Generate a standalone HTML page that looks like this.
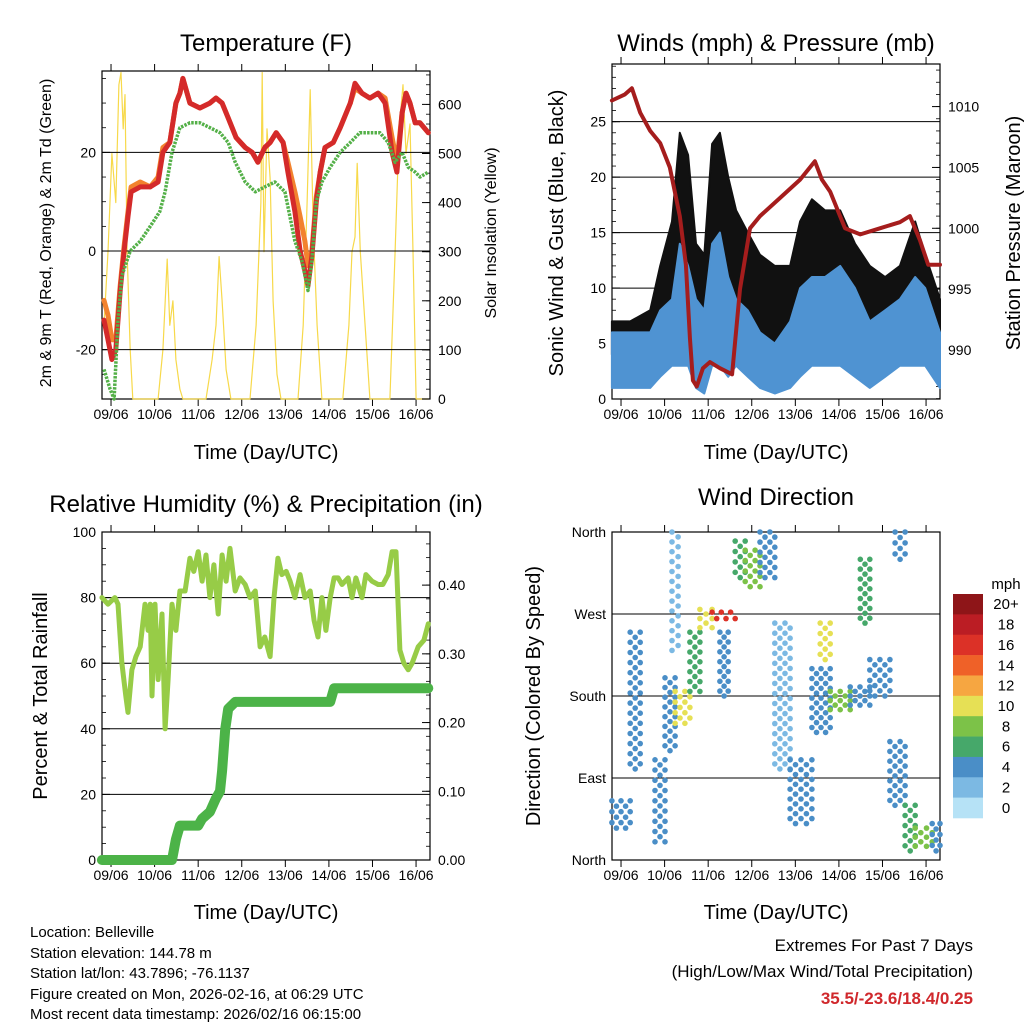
<!DOCTYPE html>
<html><head><meta charset="utf-8"><style>
body{margin:0;background:#fff}
svg{font-family:"Liberation Sans",sans-serif;display:block}
</style></head><body>
<svg id="s" width="1024" height="1024" viewBox="0 0 1024 1024" xmlns="http://www.w3.org/2000/svg">
<g id="layer"></g>
<g font-size="24" text-anchor="middle">
<text x="266" y="51">Temperature (F)</text>
<text x="776" y="51">Winds (mph) &amp; Pressure (mb)</text>
<text x="266" y="512">Relative Humidity (%) &amp; Precipitation (in)</text>
<text x="776" y="505">Wind Direction</text>
</g>
<g font-size="20" text-anchor="middle">
<text x="266" y="459">Time (Day/UTC)</text>
<text x="776" y="459">Time (Day/UTC)</text>
<text x="266" y="919">Time (Day/UTC)</text>
<text x="776" y="919">Time (Day/UTC)</text>
<text transform="translate(51,233) rotate(-90)" font-size="16">2m &amp; 9m T (Red, Orange) &amp; 2m Td (Green)</text>
<text transform="translate(496,233) rotate(-90)" font-size="16">Solar Insolation (Yellow)</text>
<text transform="translate(563,233) rotate(-90)">Sonic Wind &amp; Gust (Blue, Black)</text>
<text transform="translate(1020,233) rotate(-90)">Station Pressure (Maroon)</text>
<text transform="translate(47,696) rotate(-90)">Percent &amp; Total Rainfall</text>
<text transform="translate(540,696) rotate(-90)">Direction (Colored By Speed)</text>
</g>
<g font-size="15">
<text x="30" y="937">Location: Belleville</text>
<text x="30" y="958">Station elevation: 144.78 m</text>
<text x="30" y="978">Station lat/lon: 43.7896; -76.1137</text>
<text x="30" y="999">Figure created on Mon, 2026-02-16, at 06:29 UTC</text>
<text x="30" y="1019">Most recent data timestamp: 2026/02/16 06:15:00</text>
</g>
<g font-size="17" text-anchor="end">
<text x="973" y="951">Extremes For Past 7 Days</text>
<text x="973" y="977">(High/Low/Max Wind/Total Precipitation)</text>
<text x="973" y="1004" fill="#d0282c" font-weight="bold">35.5/-23.6/18.4/0.25</text>
</g>
</svg>
<script>
// ---------- data ----------
const dayLabels=["09/06","10/06","11/06","12/06","13/06","14/06","15/06","16/06"];
const t9Times=[-0.16,-0.07,0.02,0.11,0.21,0.30,0.39,0.46,0.67,0.90,1.08,1.19,1.35,1.49,1.58,1.65,1.81,2.04,2.27,2.41,2.55,2.69,2.87,3.08,3.24,3.37,3.53,3.65,3.79,3.95,4.06,4.22,4.34,4.45,4.52,4.61,4.71,4.80,4.91,5.10,5.26,5.49,5.60,5.76,5.94,6.13,6.29,6.45,6.56,6.68,6.77,6.86,6.98,7.09,7.28];
const t9Vals=[-14,-18,-22,-20,-8,0,7,12,13,13,14,20,22,30,32,35,30,29,30,31,30,27,23,21,20,18,21,22,24,22,16,8,0,-4,-7,-1,10,16,21,22,25,30,34,32,31,32,30,20,16,28,32,30,26,26,24];
const t2Vals=[-10,-13,-18,-18,-7,1,8,13,14,13,15,21,22,30,32,35,30,29,30,31,30,27,23,21,20,18,21,22,24,22,18,12,7,2,-3,0,11,16,21,22,25,30,33,32,31,32,31,23,18,28,32,30,26,26,24];
const tdTimes=[-0.16,-0.02,0.07,0.16,0.25,0.44,0.67,0.90,1.12,1.24,1.40,1.58,1.81,2.04,2.27,2.50,2.69,2.85,3.08,3.31,3.53,3.76,3.99,4.22,4.38,4.52,4.61,4.71,4.84,5.03,5.26,5.49,5.71,5.94,6.17,6.36,6.52,6.68,6.82,6.98,7.09,7.28];
const tdVals=[-24,-28,-30,-14,-5,0,2,5,8,12,20,25,26,26,25,24,22,18,14,12,13,14,12,2,-2,-8,-2,10,14,17,20,22,24,24,24,22,18,20,17,16,15,16];
const solarTimes=[-0.16,-0.07,0.02,0.11,0.18,0.23,0.28,0.32,0.37,0.44,0.50,1.08,1.19,1.29,1.35,1.42,1.49,1.58,1.65,2.18,2.32,2.41,2.48,2.55,2.64,2.75,3.19,3.33,3.44,3.47,3.51,3.58,3.65,3.72,3.81,3.90,4.29,4.41,4.50,4.57,4.64,4.73,4.84,5.32,5.46,5.53,5.60,5.65,5.72,5.83,5.94,6.40,6.52,6.61,6.70,6.77,6.86,6.93,7.00,7.28];
const solarVals=[150,300,500,400,640,665,550,620,300,100,0,0,100,285,150,200,80,20,0,0,80,150,290,200,60,0,0,150,400,665,300,550,450,200,50,0,0,150,400,630,350,150,0,0,150,300,330,480,300,150,0,0,300,550,640,500,560,300,0,0];
const windTimes=[-0.21,0.21,0.67,0.90,1.17,1.35,1.54,1.72,1.91,2.09,2.27,2.46,2.64,2.91,3.19,3.53,3.88,4.11,4.38,4.68,5.03,5.37,5.71,6.06,6.40,6.75,6.98,7.32];
const windLo=[1,1,1,2,3,3,3,1,0.5,3,3,2,3,2,1,0.5,1,2,3,3,3,2,1,2,3,3,3,1];
const windHi=[6,6,6,8,9,14,12,9,8,14,15,11,9,8,6,5,7,10,11,11,12,10,7,8,9,11,10,6];
const gustLo=[4,4,4,5,6,10,9,6,5,10,11,9,7,6,5,4,5,7,8,8,9,7,6,5,6,8,7,5];
const gustHi=[7,7,8,12,16,24,22,14,13,23,24,20,17,15,13,12,12,16,18,17,17,14,12,11,12,16,13,9];
const presTimes=[-0.21,0.09,0.25,0.44,0.67,0.90,1.12,1.35,1.49,1.58,1.65,1.74,1.88,2.04,2.27,2.55,2.73,2.96,3.19,3.65,4.11,4.45,4.61,4.80,5.14,5.49,5.94,6.40,6.63,6.86,7.05,7.32];
const presVals=[1010.5,1011,1011.5,1009.5,1008,1007,1005,1001,997,991,987.5,987,988.5,989,988.5,988,995,1000,1001,1002.5,1004,1005.5,1004,1003,1000,999.5,1000,1000.5,1001,999,997,997];
const rhTimes=[-0.21,-0.07,0.09,0.16,0.25,0.34,0.39,0.48,0.57,0.67,0.78,0.85,0.90,0.94,1.01,1.08,1.17,1.24,1.31,1.40,1.49,1.58,1.70,1.81,1.90,2.00,2.09,2.18,2.27,2.36,2.46,2.55,2.64,2.73,2.85,2.96,3.08,3.19,3.31,3.42,3.53,3.65,3.74,3.83,3.92,4.02,4.11,4.22,4.34,4.45,4.57,4.66,4.75,4.84,4.93,5.03,5.12,5.21,5.30,5.44,5.53,5.62,5.76,5.85,5.99,6.13,6.24,6.36,6.45,6.54,6.63,6.72,6.82,6.91,7.05,7.18,7.28];
const rhVals=[80,78,80,78,60,50,45,58,62,65,78,70,78,50,78,55,75,40,55,78,70,82,82,92,88,94,85,93,80,90,75,93,85,95,82,86,84,80,82,65,68,62,80,92,87,88,85,80,87,80,82,73,68,80,70,80,86,86,84,86,80,86,80,87,85,84,84,87,94,94,64,60,58,60,65,67,72];
const rainTimes=[-0.21,1.40,1.49,1.58,2.00,2.09,2.27,2.41,2.50,2.55,2.62,2.69,2.85,5.03,5.12,7.28];
const rainVals=[0,0,0.03,0.05,0.05,0.06,0.07,0.09,0.10,0.13,0.19,0.22,0.23,0.23,0.25,0.25];
const dirStart=[-0.21,0.21,0.78,1.01,1.17,1.24,1.58,1.81,2.09,2.27,2.62,2.85,3.19,3.53,3.88,4.38,4.57,4.80,5.26,5.49,5.71,6.17,6.29,6.52,6.75,7.14];
const dirEnd=[0.21,0.44,1.01,1.24,1.31,1.58,1.81,2.09,2.62,2.46,2.85,3.19,3.53,3.88,4.38,4.80,4.80,5.26,5.71,5.71,6.17,6.52,6.52,6.75,7.14,7.32];
const dirLo=[35,100,20,120,230,150,185,255,265,180,310,300,310,100,40,140,220,165,170,260,180,60,330,10,15,10];
const dirHi=[65,250,110,200,360,185,250,275,272,250,350,340,360,260,110,210,260,185,190,330,220,130,360,60,35,40];
const dirSpeed=[4,3,4,4,1,10,6,10,16,4,6,8,4,1,3,4,10,7,4,5,3,3,3,5,8,4];
const speedLabels=["20+","18","16","14","12","10","8","6","4","2","0"];
const speedColors=["#8e1518","#bb1d24","#dc3127","#ef6128","#f6a641","#e6e055","#7cc248","#46a86a","#4a8ec7","#7cb9e3","#b6e2f6"];

// ---------- helpers ----------
const NS="http://www.w3.org/2000/svg";
const L=document.getElementById('layer');
function mk(tag,attrs,parent){const e=document.createElementNS(NS,tag);for(const k in attrs)e.setAttribute(k,attrs[k]);(parent||L).appendChild(e);return e;}
const XD=[-0.207,7.32];
function panel(b,yl,yr){
  return {b:b,
   x:t=>b.x0+(t-XD[0])/(XD[1]-XD[0])*(b.x1-b.x0),
   yL:v=>b.y1-(v-yl[0])/(yl[1]-yl[0])*(b.y1-b.y0),
   yR:yr?v=>b.y1-(v-yr[0])/(yr[1]-yr[0])*(b.y1-b.y0):null};
}
function frame(p,name){
  const b=p.b;
  const g=mk('g',{});
  
  
  mk('rect',{x:b.x0,y:b.y0,width:b.x1-b.x0,height:b.y1-b.y0,fill:'none',stroke:'#000','stroke-width':1.2},g);
  dayLabels.forEach((d,i)=>{const x=p.x(i);
    mk('line',{x1:x,x2:x,y1:b.y1,y2:b.y1+7,stroke:'#000'},g);
    mk('line',{x1:x,x2:x,y1:b.y0,y2:b.y0-7,stroke:'#000'},g);
    const tx=mk('text',{x:x,y:b.y1+20,'font-size':14,'text-anchor':'middle'},g);tx.textContent=d;
    
    
  });
  return g;
}
function yTicks(p,vals,labels,side,grid,minorStep,range){
  const b=p.b;const f=side==='L'?p.yL:p.yR;
  const g=mk('g',{});
  
  
  if(minorStep){for(let v=range[0];v<=range[1]+1e-9;v+=minorStep){const y=f(v);if(y<b.y0||y>b.y1)continue;
    if(side==='L')mk('line',{x1:b.x0,x2:b.x0+4,y1:y,y2:y,stroke:'#000','stroke-width':0.8},g);
    else mk('line',{x1:b.x1,x2:b.x1-4,y1:y,y2:y,stroke:'#000','stroke-width':0.8},g);}}
  vals.forEach((v,i)=>{const y=f(v);
    if(grid)mk('line',{x1:b.x0,x2:b.x1,y1:y,y2:y,stroke:'#000','stroke-width':1},g);
    if(side==='L'){mk('line',{x1:b.x0,x2:b.x0+8,y1:y,y2:y,stroke:'#000'},g);
      const t=mk('text',{x:b.x0-6,y:y+5,'font-size':14,'text-anchor':'end'},g);t.textContent=labels[i];}
    else{mk('line',{x1:b.x1,x2:b.x1-8,y1:y,y2:y,stroke:'#000'},g);
      const t=mk('text',{x:b.x1+8,y:y+5,'font-size':14,'text-anchor':'start'},g);t.textContent=labels[i];}
  });
}
function line(p,ts,vs,fy,attrs,name){
  const pts=ts.map((t,i)=>p.x(t).toFixed(1)+','+fy(vs[i]).toFixed(1)).join(' ');
  const e=mk('polyline',Object.assign({points:pts,fill:'none','stroke-linejoin':'round','stroke-linecap':'round'},attrs));
  
  
  return e;
}
function band(p,ts,lo,hi,fy,fill,name){
  const a=ts.map((t,i)=>p.x(t).toFixed(1)+','+fy(hi[i]).toFixed(1));
  const c=ts.map((t,i)=>p.x(t).toFixed(1)+','+fy(lo[i]).toFixed(1)).reverse();
  const e=mk('polygon',{points:a.concat(c).join(' '),fill:fill,stroke:fill,'stroke-width':2,'stroke-linejoin':'round'});
  
  
}

// ---------- temperature ----------
const P1=panel({x0:102,x1:430,y0:71,y1:399},[-30,36.5],[0,668]);
frame(P1,'temperature');
line(P1,solarTimes,solarVals,P1.yR,{stroke:'#f7d94a','stroke-width':1.2},'solar-insolation-line');
yTicks(P1,[-20,0,20],['-20','0','20'],'L',true,5,[-30,36]);
yTicks(P1,[0,100,200,300,400,500,600],['0','100','200','300','400','500','600'],'R',false,20,[0,660]);
line(P1,t9Times,t2Vals,P1.yL,{stroke:'#f2822e','stroke-width':5},'temp-2m-line');
line(P1,t9Times,t9Vals,P1.yL,{stroke:'#d42a2a','stroke-width':5},'temp-9m-line');
line(P1,tdTimes,tdVals,P1.yL,{stroke:'#54b048','stroke-width':3.5,'stroke-dasharray':'2.5 1.2','stroke-linecap':'butt'},'dewpoint-line');

// ---------- winds ----------
const P2=panel({x0:612,x1:940,y0:64,y1:399},[0,30.2],[985.97,1013.5]);
frame(P2,'winds');
yTicks(P2,[5,10,15,20,25],['5','10','15','20','25'],'L',true,1,[0,30]);
mk('text',{x:606,y:404,'font-size':14,'text-anchor':'end'}).textContent='0';
yTicks(P2,[990,995,1000,1005,1010],['990','995','1000','1005','1010'],'R',false,1,[986,1013]);
band(P2,windTimes,gustLo,gustHi,P2.yL,'#111','gust-band');
band(P2,windTimes,windLo,windHi,P2.yL,'#4f93d2','wind-band');
line(P2,presTimes,presVals,P2.yR,{stroke:'#a51d1d','stroke-width':4},'pressure-line');

// ---------- RH ----------
const P3=panel({x0:102,x1:430,y0:532,y1:860},[0,100],[0,0.4773]);
frame(P3,'humidity');
yTicks(P3,[0,20,40,60,80,100],['0','20','40','60','80','100'],'L',true,5,[0,100]);
yTicks(P3,[0,0.1,0.2,0.3,0.4],['0.00','0.10','0.20','0.30','0.40'],'R',false,0.02,[0,0.46]);
line(P3,rhTimes,rhVals,P3.yL,{stroke:'#97cc47','stroke-width':5},'relative-humidity-line');
line(P3,rainTimes,rainVals,P3.yR,{stroke:'#4cb348','stroke-width':10},'precipitation-line');

// ---------- direction ----------
const P4=panel({x0:612,x1:940,y0:532,y1:860},[0,360]);
frame(P4,'direction');
yTicks(P4,[0,90,180,270,360],['North','East','South','West','North'],'L',true,null);
function spdColor(s){let i=Math.min(10,Math.round(s/2));return speedColors[10-i];}
dirStart.forEach((t0,i)=>{
  const x0=P4.x(t0),x1=P4.x(dirEnd[i]);
  const ya=P4.yL(dirHi[i]),yb=P4.yL(dirLo[i]);
  const g=mk('g',{fill:spdColor(dirSpeed[i])});
  
  
  const nx=Math.max(1,Math.round((x1-x0)/5)),ny=Math.max(1,Math.round((yb-ya)/5));
  for(let a=0;a<=nx;a++)for(let c=0;c<=ny;c++){
    if((a+c)%2)continue;
    mk('circle',{cx:(x0+(x1-x0)*a/nx).toFixed(1),cy:(ya+(yb-ya)*c/ny).toFixed(1),r:2.8},g);
  }
});
// colorbar
const cb=mk('g',{});


const cbTop=594,cbH=224/11;
mk('text',{x:1006,y:589,'font-size':15,'text-anchor':'middle'},cb).textContent='mph';
speedLabels.forEach((lab,i)=>{
  mk('rect',{x:953,y:cbTop+i*cbH,width:30,height:cbH+0.3,fill:speedColors[i]},cb);
  const t=mk('text',{x:1006,y:cbTop+i*cbH+cbH/2+5,'font-size':15,'text-anchor':'middle'},cb);t.textContent=lab;
});
</script>
</body></html>
